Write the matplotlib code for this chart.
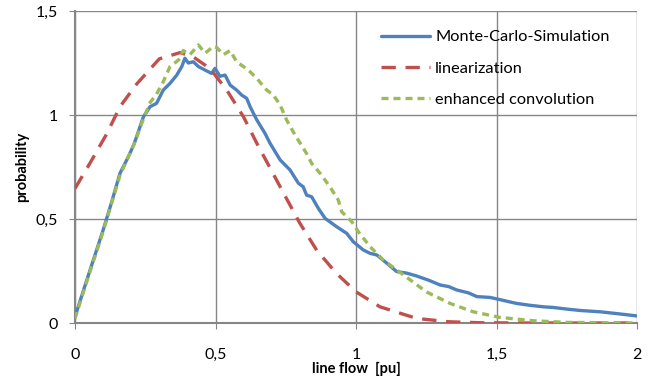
import numpy as np
import matplotlib
matplotlib.use("Agg")
import matplotlib.pyplot as plt

plt.rcParams['font.family'] = ['Lato', 'DejaVu Sans']

# Monte-Carlo-Simulation
mc_x = [0.0, 0.004, 0.042, 0.10, 0.13, 0.16, 0.19, 0.21, 0.243, 0.267, 0.29, 0.314, 0.338,
        0.362, 0.38, 0.391, 0.403, 0.421, 0.439, 0.463, 0.486, 0.498, 0.516, 0.534, 0.552,
        0.575, 0.593, 0.611, 0.623, 0.647, 0.676, 0.694, 0.73, 0.765, 0.795, 0.812, 0.824,
        0.842, 0.866, 0.89, 0.931, 0.967, 0.99, 1.026, 1.05, 1.074, 1.103, 1.145, 1.18,
        1.216, 1.26, 1.299, 1.33, 1.358, 1.40, 1.43, 1.477, 1.52, 1.572, 1.62, 1.666,
        1.70, 1.75, 1.80, 1.868, 1.93, 2.0]
mc_y = [0.03, 0.047, 0.207, 0.447, 0.58, 0.72, 0.80, 0.86, 0.99, 1.04, 1.056, 1.12, 1.152,
        1.192, 1.233, 1.273, 1.25, 1.256, 1.233, 1.216, 1.20, 1.224, 1.186, 1.192, 1.144,
        1.12, 1.096, 1.08, 1.04, 0.976, 0.912, 0.864, 0.784, 0.736, 0.672, 0.655, 0.615,
        0.607, 0.551, 0.503, 0.463, 0.431, 0.391, 0.351, 0.335, 0.327, 0.295, 0.247, 0.24,
        0.226, 0.205, 0.183, 0.175, 0.159, 0.145, 0.127, 0.123, 0.11, 0.094, 0.085, 0.078,
        0.075, 0.067, 0.06, 0.054, 0.045, 0.034]

# linearization
lin_x = [0.0, 0.053, 0.113, 0.16, 0.22, 0.30, 0.374, 0.42, 0.48, 0.54, 0.60, 0.647, 0.73,
         0.80, 0.86, 0.93, 1.0, 1.085, 1.157, 1.216, 1.33, 1.45, 1.6, 1.8, 2.0]
lin_y = [0.647, 0.768, 0.91, 1.04, 1.15, 1.27, 1.30, 1.28, 1.224, 1.12, 0.99, 0.864, 0.655,
         0.48, 0.35, 0.239, 0.15, 0.078, 0.047, 0.022, 0.006, 0.001, 0.0, 0.0, 0.0]

# enhanced convolution
ec_x = [0.0, 0.004, 0.042, 0.10, 0.16, 0.21, 0.243, 0.267, 0.29, 0.314, 0.338, 0.368,
        0.385, 0.409, 0.439, 0.463, 0.492, 0.504, 0.528, 0.552, 0.575, 0.617, 0.647,
        0.682, 0.706, 0.73, 0.753, 0.783, 0.824, 0.842, 0.872, 0.907, 0.937, 0.949, 0.985,
        1.008, 1.05, 1.097, 1.145, 1.20, 1.25, 1.335, 1.417, 1.512, 1.63, 1.75, 2.0]
ec_y = [0.02, 0.04, 0.20, 0.44, 0.71, 0.86, 0.98, 1.06, 1.10, 1.16, 1.233, 1.264,
        1.31, 1.29, 1.337, 1.297, 1.33, 1.325, 1.29, 1.31, 1.256, 1.216, 1.176,
        1.12, 1.096, 1.048, 0.976, 0.904, 0.815, 0.768, 0.72, 0.655, 0.591, 0.535, 0.487,
        0.439, 0.367, 0.303, 0.255, 0.20, 0.15, 0.094, 0.054, 0.027, 0.011, 0.003, 0.0]

x_ticks = [0, 0.5, 1, 1.5, 2]
x_labels = ['0', '0,5', '1', '1,5', '2']
y_ticks = [0, 0.5, 1, 1.5]
y_labels = ['0', '0,5', '1', '1,5']

grey = '#868686'

fig = plt.figure(figsize=(6.57, 3.85), dpi=100)
ax = fig.add_axes([0.1142, 0.161, 0.8554, 0.8104])

ax.plot(mc_x, mc_y, color='#4F81BD', lw=2.4, solid_capstyle='round',
        label='Monte-Carlo-Simulation', zorder=3)
ax.plot(lin_x, lin_y, color='#C0504D', lw=2.4, dashes=(4.3, 2.9),
        label='linearization', zorder=4)
ax.plot(ec_x, ec_y, color='#9BBB59', lw=2.4, dashes=(2.1, 1.5),
        label='enhanced convolution', zorder=5)

ax.set_xlim(0, 2)
ax.set_ylim(0, 1.5)
ax.set_xticks(x_ticks)
ax.set_xticklabels(x_labels)
ax.set_yticks(y_ticks)
ax.set_yticklabels(y_labels)
ax.grid(True, color=grey, lw=1.0)
ax.set_axisbelow(True)

for side in ['top', 'right']:
    ax.spines[side].set_visible(False)
for side in ['left', 'bottom']:
    ax.spines[side].set_color(grey)
    ax.spines[side].set_linewidth(1.5)

ax.tick_params(axis='x', direction='out', length=4, color=grey, pad=14, labelsize=11.5)
ax.tick_params(axis='y', direction='out', length=4, color=grey, pad=8, labelsize=11.5)

ax.set_xlabel('line flow  [pu]', fontweight='bold', fontsize=10.5, labelpad=0)
ax.set_ylabel('probability', fontweight='bold', fontsize=10.5, labelpad=5)

leg = ax.legend(loc='upper left', bbox_to_anchor=(381 / 657, 1 - 30 / 385),
                bbox_transform=fig.transFigure, frameon=False, borderpad=0,
                borderaxespad=0, fontsize=11.8, handlelength=3.0,
                handletextpad=0.3, labelspacing=1.02)

fig.savefig('out.png', dpi=100)
